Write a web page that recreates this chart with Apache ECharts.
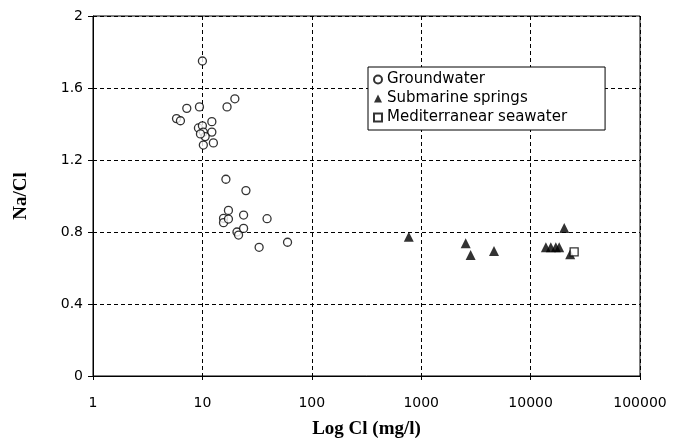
<!DOCTYPE html>
<html>
<head>
<meta charset="utf-8">
<title>Na/Cl vs Log Cl</title>
<script src="https://cdn.jsdelivr.net/npm/echarts@6/dist/echarts.min.js"></script>
<style>
    html, body { margin: 0; padding: 0; background: #fff; }
    #chart-container { width: 679px; height: 440px; }
</style>
</head>
<body>
<div id="chart-container"></div>
<script>
// Na/Cl 比值与氯离子浓度散点图

// 地下水 [Cl mg/l, Na/Cl]
var groundwater = [
    [10, 1.75], [19.8, 1.54], [16.8, 1.495], [9.4, 1.495], [7.2, 1.487],
    [5.8, 1.43], [6.3, 1.418], [12.2, 1.413], [9.2, 1.378], [10, 1.39],
    [12.2, 1.355], [10.2, 1.355], [10.6, 1.33], [9.6, 1.345], [12.6, 1.295],
    [10.2, 1.283], [16.4, 1.093], [25, 1.03], [17.3, 0.92], [23.8, 0.894],
    [39, 0.874], [15.6, 0.876], [15.6, 0.852], [17.3, 0.872], [20.7, 0.80],
    [23.8, 0.82], [21.4, 0.783], [33, 0.715], [60, 0.743]
];

// 海底泉
var submarineSprings = [
    [770, 0.774], [2550, 0.737], [2830, 0.672], [4630, 0.694],
    [13800, 0.715], [15300, 0.715], [17000, 0.715], [18250, 0.715],
    [20300, 0.822], [23000, 0.676]
];

// 地中海海水
var seawater = [
    [25000, 0.69]
];

var seriesNames = ['Groundwater', 'Submarine springs', 'Mediterranear seawater'];

var myChart = echarts.init(document.getElementById('chart-container'));

var gridLine = {
    show: true,
    lineStyle: { color: '#000', type: [4, 3], width: 1 }
};

var titleFont = {
    fontFamily: 'Liberation Serif',
    fontWeight: 'bold',
    fontSize: 19,
    color: '#000'
};

var option = {
    animation: false,
    backgroundColor: '#fff',
    grid: {
        left: 93,
        right: 39,
        top: 16,
        bottom: 64,
        outerBoundsMode: 'none',
        show: true,
        borderColor: '#000',
        borderWidth: 1
    },
    legend: {
        orient: 'vertical',
        left: 368,
        top: 67,
        padding: [5, 38, 5, 5],
        itemGap: 4,
        itemWidth: 8,
        itemHeight: 8,
        borderColor: '#000',
        borderWidth: 1,
        backgroundColor: '#fff',
        textStyle: {
            fontFamily: 'DejaVu Sans',
            fontSize: 15,
            color: '#000'
        },
        data: seriesNames
    },
    xAxis: {
        type: 'log',
        logBase: 10,
        min: 1,
        max: 100000,
        name: 'Log Cl (mg/l)',
        nameLocation: 'middle',
        nameGap: 44,
        nameTextStyle: titleFont,
        axisLine: { lineStyle: { color: '#000', width: 1 } },
        axisTick: { show: true, length: 4, lineStyle: { color: '#000' } },
        axisLabel: {
            margin: 20,
            fontFamily: 'DejaVu Sans',
            fontSize: 14,
            color: '#000',
            formatter: function (v) {
                return String(Math.round(v));
            }
        },
        splitLine: gridLine,
        minorTick: { show: false }
    },
    yAxis: {
        type: 'value',
        min: 0,
        max: 2,
        interval: 0.4,
        name: 'Na/Cl',
        nameLocation: 'middle',
        nameGap: 62,
        nameTextStyle: titleFont,
        axisLine: { show: true, lineStyle: { color: '#000', width: 1 } },
        axisTick: { show: true, length: 5, lineStyle: { color: '#000' } },
        axisLabel: {
            margin: 10,
            fontFamily: 'DejaVu Sans',
            fontSize: 14,
            color: '#000',
            formatter: function (v) {
                return v === 0 || v === 2 ? String(v) : v.toFixed(1);
            }
        },
        splitLine: gridLine
    },
    series: [
        {
            name: seriesNames[0],
            type: 'scatter',
            symbol: 'circle',
            symbolSize: 8,
            itemStyle: { color: '#fff', borderColor: '#000', borderWidth: 1.3 },
            data: groundwater
        },
        {
            name: seriesNames[1],
            type: 'scatter',
            symbol: 'triangle',
            symbolSize: 10,
            itemStyle: { color: '#000' },
            data: submarineSprings
        },
        {
            name: seriesNames[2],
            type: 'scatter',
            symbol: 'rect',
            symbolSize: 8,
            itemStyle: { color: '#fff', borderColor: '#000', borderWidth: 1.3 },
            data: seawater
        }
    ]
};

myChart.setOption(option);
</script>
</body>
</html>
